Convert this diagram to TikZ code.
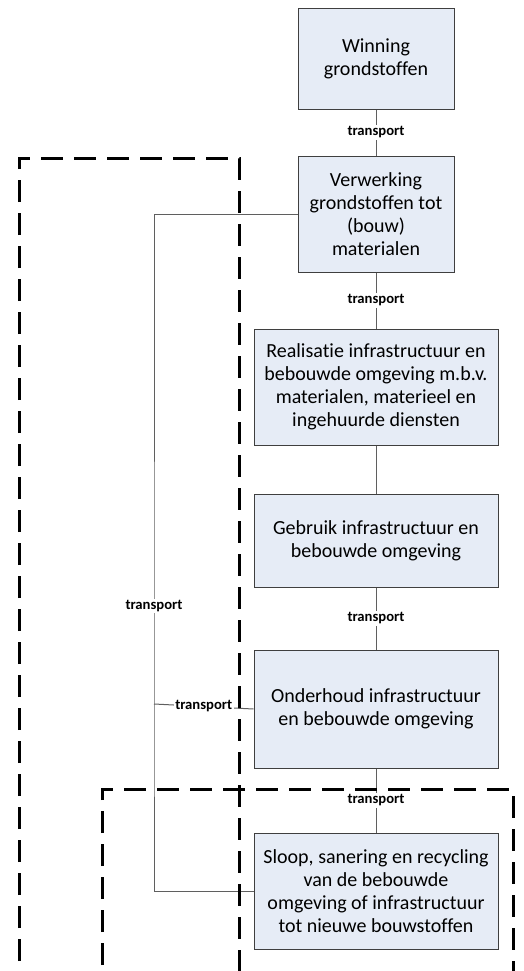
\documentclass[tikz,border=0pt]{standalone}
\usepackage{fontspec}
\setmainfont{Carlito}[Ligatures=NoCommon]
\definecolor{boxfill}{HTML}{E6ECF6}
\definecolor{boxline}{HTML}{3F3F3F}
\definecolor{wirecol}{HTML}{5F5F5F}
\tikzset{
  stage/.style={draw=boxline,fill=boxfill,line width=0.75pt,align=center,inner sep=0pt,
    font=\fontsize{15}{17.25}\selectfont},
  trans/.style={fill=white,inner sep=1pt,font=\bfseries\fontsize{11}{12}\selectfont},
  wire/.style={draw=wirecol,line width=0.75pt},
  border/.style={line width=2.25pt,dash pattern=on 16.5pt off 8.25pt}
}

\begin{document}
\begin{tikzpicture}[x=0.75pt,y=-0.75pt]
  \useasboundingbox (0,0) rectangle (524,971);
  \draw(376,58.5) node[stage,minimum width=117pt,minimum height=75.75pt] (W) {Winning\\grondstoffen};
  \draw(376,214) node[stage,minimum width=117pt,minimum height=87pt] (V) {Verwerking\\grondstoffen tot\\(bouw)\\materialen};
  \draw(376,387) node[stage,minimum width=183pt,minimum height=87pt] (R) {Realisatie infrastructuur en\\bebouwde omgeving m.b.v.\\materialen, materieel en\\ingehuurde diensten};
  \draw(376,540.5) node[stage,minimum width=183pt,minimum height=69.75pt] (G) {Gebruik infrastructuur en\\bebouwde omgeving};
  \draw(376,709) node[stage,minimum width=183pt,minimum height=88.5pt] (O) {Onderhoud infrastructuur\\en bebouwde omgeving};
  \draw(376,891) node[stage,minimum width=183pt,minimum height=87pt] (S) {Sloop, sanering en recycling\\van de bebouwde\\omgeving of infrastructuur\\tot nieuwe bouwstoffen};
  % chain
  \draw[wire] (W) -- (V) node[midway,trans] {transport};
  \draw[wire] (V) -- (R) node[midway,trans] {transport};
  \draw[wire] (R) -- (G);
  \draw[wire] (G) -- (O) node[midway,trans] {transport};
  \draw[wire] (O) -- (S) node[midway,trans] {transport};
  % return line
  \coordinate (J) at (154,704);
  \draw[wire] (V.west) -| (J) node[pos=0.9,trans] {transport} |- (S.west);
  \draw[wire] (O.west) -- (J) node[midway,trans] {transport};
  % dashed borders
  \draw[border,dash phase=17.25pt] (19,971) -- (19,158) -- (239,158) -- (239,971);
  \draw[border,dash phase=20.25pt] (102,971) -- (102,789) -- (513,789) -- (513,971);
\end{tikzpicture}
\end{document}
